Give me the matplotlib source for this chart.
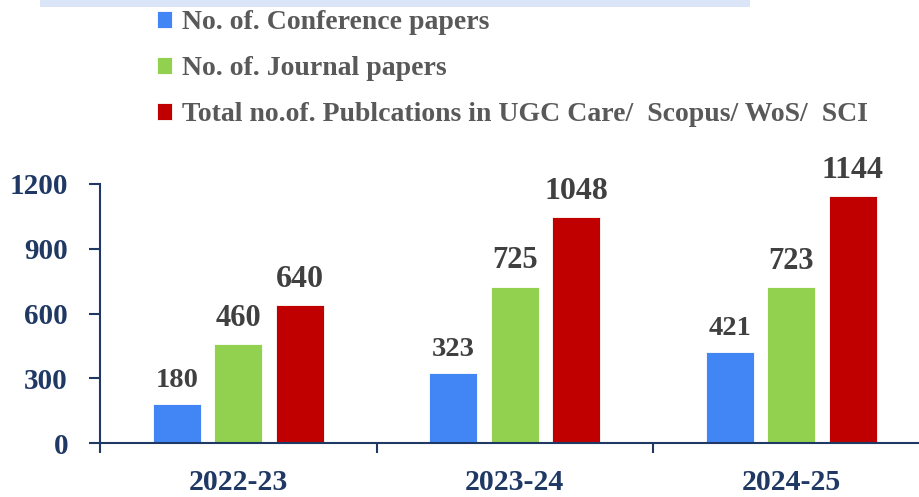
import matplotlib.pyplot as plt
from matplotlib.patches import Rectangle

years = ['2022-23', '2023-24', '2024-25']
conference = [180, 323, 421]
journal = [460, 725, 723]
total = [640, 1048, 1144]
series_names = ['No. of. Conference papers', 'No. of. Journal papers',
                'Total no.of. Publcations in UGC Care/  Scopus/ WoS/  SCI']
yticks = [0, 300, 600, 900, 1200]

navy = '#1F3864'
grey = '#404040'
colors = ['#4285F4', '#92D050', '#C00000']
label_sizes = [20.5, 22, 23]

plt.rcParams['font.family'] = ['Liberation Serif', 'DejaVu Serif']
plt.rcParams['font.weight'] = 'bold'

fig = plt.figure(figsize=(9.2, 4.97), dpi=100)
ax = fig.add_axes([100 / 920, 54 / 497, 829.5 / 920, 259 / 497])

# light blue strip at the very top
fig.add_artist(Rectangle((40 / 920, 490 / 497), 710 / 920, 7 / 497,
                         transform=fig.transFigure, color='#DAE6F8', lw=0))

pitch = 0.2224
width = 0.1736
bars = []
for i, (vals, c) in enumerate(zip([conference, journal, total], colors)):
    xs = [k + (i - 1) * pitch for k in range(len(years))]
    b = ax.bar(xs, vals, width, color=c, edgecolor='white', linewidth=0.6,
               label=series_names[i])
    bars.append(b)
    for x, v in zip(xs, vals):
        ax.annotate(str(v), (x, v), xytext=(0, 8), textcoords='offset points',
                    ha='center', va='bottom', fontsize=label_sizes[i],
                    color=grey, fontweight='bold', annotation_clip=False)

ax.set_xlim(-0.5, 2.5)
ax.set_ylim(0, 1200)
ax.set_yticks(yticks)
ax.set_yticklabels([str(t) for t in yticks])

# category boundary ticks, labels centred between them
ax.set_xticks([-0.5, 0.5, 1.5, 2.5])
ax.set_xticklabels([])
ax.set_xticks(range(len(years)), minor=True)
ax.set_xticklabels(years, minor=True)
ax.tick_params(axis='x', which='major', direction='out', length=7.5, width=1.5, color=navy)
ax.tick_params(axis='x', which='minor', length=0, pad=19, labelsize=21.5, labelcolor=navy)
ax.tick_params(axis='y', direction='out', length=8, width=1.5, color=navy,
               pad=15, labelsize=21, labelcolor=navy)

for s in ['top', 'right']:
    ax.spines[s].set_visible(False)
for s in ['left', 'bottom']:
    ax.spines[s].set_color(navy)
    ax.spines[s].set_linewidth(1.5)

fig.legend(handles=bars, labels=series_names, loc='upper left',
           bbox_to_anchor=(157 / 920, 1 - 10 / 497), frameon=False,
           fontsize=20, labelcolor='#595959', handlelength=0.55,
           handleheight=0.55, handletextpad=0.35, labelspacing=0.76,
           borderpad=0, borderaxespad=0)

fig.savefig('out.png', dpi=100)
